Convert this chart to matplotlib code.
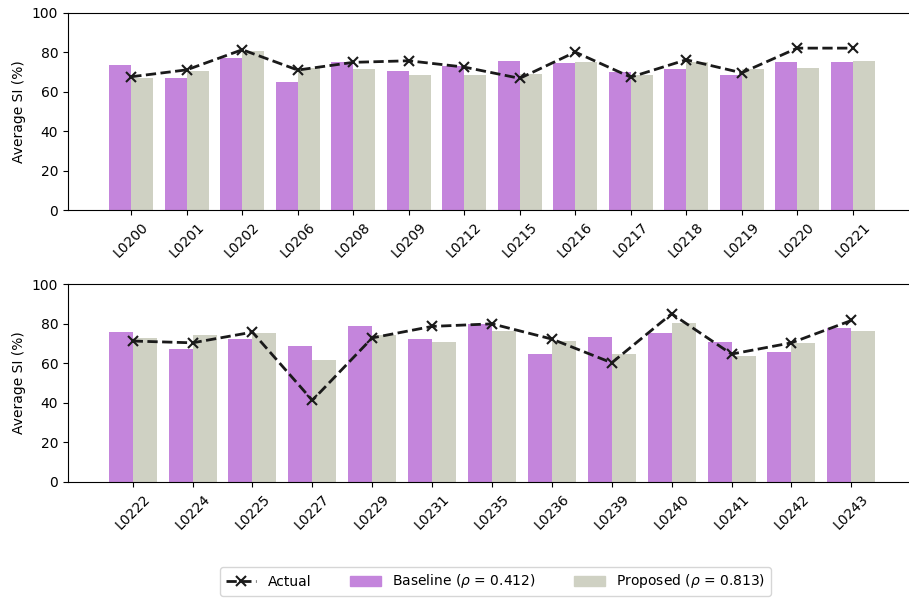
import numpy as np
import matplotlib.pyplot as plt
from matplotlib.lines import Line2D
from matplotlib.patches import Patch

labels_top = ['L0200', 'L0201', 'L0202', 'L0206', 'L0208', 'L0209', 'L0212',
              'L0215', 'L0216', 'L0217', 'L0218', 'L0219', 'L0220', 'L0221']
baseline_top = [73.3, 66.8, 77.1, 64.6, 74.8, 70.5, 72.9, 75.6, 74.3, 69.9, 71.2, 68.4, 74.9, 74.9]
proposed_top = [67.0, 70.5, 80.7, 71.7, 71.2, 68.4, 68.4, 68.9, 74.9, 68.4, 74.9, 71.2, 71.9, 75.6]
actual_top = [67.5, 71.0, 81.2, 70.9, 74.8, 75.6, 72.4, 66.7, 80.0, 67.3, 76.1, 69.5, 82.0, 82.0]

labels_bot = ['L0222', 'L0224', 'L0225', 'L0227', 'L0229', 'L0231', 'L0235',
              'L0236', 'L0239', 'L0240', 'L0241', 'L0242', 'L0243']
baseline_bot = [75.7, 67.1, 72.0, 68.5, 78.6, 72.0, 79.6, 64.7, 73.0, 75.1, 70.5, 65.5, 77.9]
proposed_bot = [72.8, 74.2, 75.1, 61.7, 74.2, 70.7, 76.4, 71.3, 64.7, 80.1, 63.4, 70.0, 76.4]
actual_bot = [71.2, 70.3, 75.7, 41.2, 72.8, 78.6, 79.9, 72.2, 60.2, 85.0, 64.6, 70.3, 81.6]

base_color = '#c485dc'
prop_color = '#cfd1c3'
line_style = dict(color='#1a1a1a', linestyle='--', linewidth=2,
                  marker='x', markersize=7, markeredgewidth=1.5)


def draw_panel(ax, labels, baseline, proposed, actual, pad):
    x = np.arange(len(labels))
    w = 0.4
    ax.bar(x - w / 2, baseline, width=w, color=base_color)
    ax.bar(x + w / 2, proposed, width=w, color=prop_color)
    ax.plot(x, actual, **line_style)
    ax.set_xticks(x)
    ax.set_xticklabels(labels, rotation=45, fontsize=10)
    ax.set_xlim(-pad, len(labels) - 1 + pad)
    ax.set_ylim(0, 100)
    ax.set_yticks(range(0, 101, 20))
    ax.tick_params(axis='y', labelsize=10)
    ax.set_ylabel('Average SI (%)', fontsize=10)


fig = plt.figure(figsize=(9.09, 6), dpi=100)
ax1 = fig.add_axes([68 / 909, 0.65, 848 / 909, 0.329])
ax2 = fig.add_axes([68 / 909, 0.197, 848 / 909, 0.3295])

draw_panel(ax1, labels_top, baseline_top, proposed_top, actual_top, 1.14)
draw_panel(ax2, labels_bot, baseline_bot, proposed_bot, actual_bot, 1.08)

handles = [
    Line2D([0], [0], **line_style),
    Patch(color=base_color),
    Patch(color=prop_color),
]
names = ['Actual', r'Baseline ($\rho$ = 0.412)', r'Proposed ($\rho$ = 0.813)']
fig.legend(handles, names, loc='lower center', bbox_to_anchor=(0.545, -0.005),
           ncol=3, fontsize=10, frameon=True, columnspacing=2.8, handlelength=2.2)

fig.savefig('out.png', dpi=100)
